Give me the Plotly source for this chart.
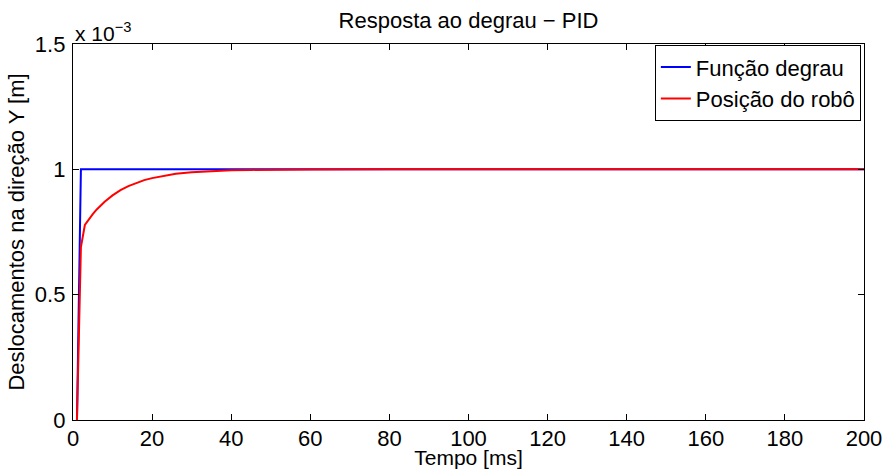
import plotly.graph_objects as go

# Step input (units of 1e-3 m)
t_step = [1, 2, 200]
y_step = [0.0, 1.0, 1.0]

# Robot position response (units of 1e-3 m)
t_robot = [1, 2, 3, 4, 5, 6, 7, 8, 10, 12, 14, 16, 18, 20, 23, 26, 30, 35, 40, 45, 50, 60, 80, 200]
y_robot = [0.0, 0.69, 0.778, 0.801, 0.821, 0.840, 0.856, 0.871, 0.896, 0.917, 0.933,
           0.946, 0.957, 0.965, 0.975, 0.982, 0.988, 0.993, 0.996, 0.9977, 0.9987,
           0.9995, 0.9999, 1.0]

x_ticks = [0, 20, 40, 60, 80, 100, 120, 140, 160, 180, 200]
y_ticks = [0, 0.5, 1, 1.5]
y_tick_text = ["0", "0.5", "1", "1.5"]

FONT = "Liberation Sans, Arial, Helvetica, sans-serif"

fig = go.Figure()
fig.add_trace(go.Scatter(x=t_step, y=y_step, mode="lines", name="Função degrau",
                         line=dict(color="#0000ff", width=2)))
fig.add_trace(go.Scatter(x=t_robot, y=y_robot, mode="lines", name="Posição do robô",
                         line=dict(color="#ff0000", width=2)))

axis_common = dict(showline=True, linecolor="black", linewidth=1.3, mirror="ticks",
                   ticks="inside", ticklen=6, tickcolor="black", tickwidth=1,
                   showgrid=False, zeroline=False, automargin=False,
                   tickfont=dict(family=FONT, size=22, color="black"))

fig.update_layout(
    width=885, height=469,
    margin=dict(l=73, r=21, t=44, b=49, autoexpand=False),
    paper_bgcolor="white", plot_bgcolor="white",
    font=dict(family=FONT, color="black"),
    title=dict(text="Resposta ao degrau − PID", x=0.5, xref="paper", xanchor="center",
               y=0.957, yanchor="middle", font=dict(family=FONT, size=22, color="black")),
    xaxis=dict(range=[0, 200], tickvals=x_ticks, ticklabelstandoff=-2,
               title=dict(text="Tempo [ms]", font=dict(family=FONT, size=21), standoff=1),
               **axis_common),
    yaxis=dict(range=[0, 1.5], tickvals=y_ticks, ticktext=y_tick_text, ticklabelstandoff=2,
               title=dict(text="Deslocamentos na direção Y [m]", font=dict(family=FONT, size=22),
                          standoff=4),
               **axis_common),
    legend=dict(x=0.996, y=0.997, xanchor="right", yanchor="top",
                bgcolor="white", bordercolor="black", borderwidth=1,
                font=dict(family=FONT, size=22, color="black"),
                tracegroupgap=0, itemwidth=30),
    showlegend=True,
)

fig.add_annotation(text="x 10<sup>−3</sup>", xref="paper", yref="paper", x=0.0, y=1.0,
                   xanchor="left", yanchor="bottom", showarrow=False, xshift=0, yshift=-3,
                   font=dict(family=FONT, size=21, color="black"))

fig.write_html("out.html")
